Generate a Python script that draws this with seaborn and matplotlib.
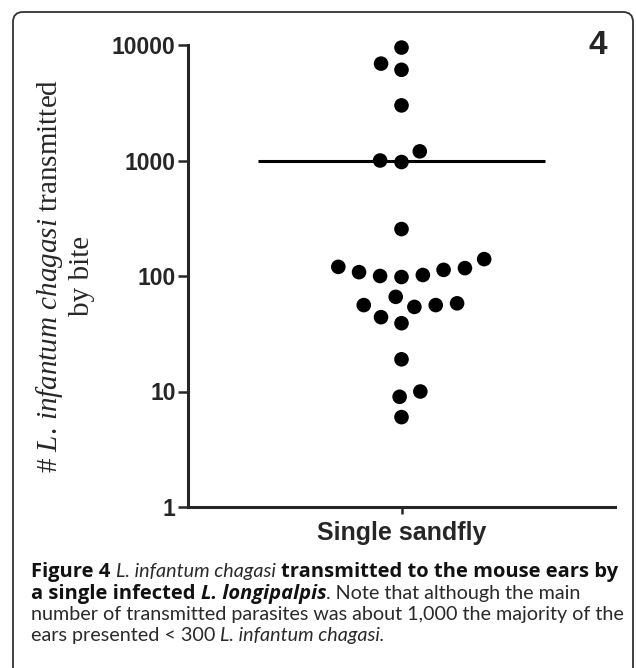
import matplotlib
matplotlib.use("Agg")
import matplotlib.pyplot as plt
import seaborn as sns
import pandas as pd
from matplotlib.patches import FancyBboxPatch
from matplotlib.transforms import IdentityTransform
from matplotlib.ticker import NullLocator

# parasites transmitted per ear by a single sandfly bite
parasites = [9500, 6900, 6100, 3000, 1000, 970, 1200, 255,
             120, 113, 102, 98, 100, 108, 117, 140,
             58, 56, 66, 44, 39, 54, 56, 19, 10, 9, 6]
group = "Single sandfly"
mean_parasites = 1000
yticks = [1, 10, 100, 1000, 10000]
ytick_labels = ["1", "10", "100", "1000", "10000"]
panel = "4"

caption = [
    [("Figure 4 ", "bold", "normal"), ("L. infantum chagasi", "normal", "italic"),
     (" transmitted to the mouse ears by", "bold", "normal")],
    [("a single infected ", "bold", "normal"), ("L. longipalpis", "bold", "italic"),
     (". Note that although the main", "normal", "normal")],
    [("number of transmitted parasites was about 1,000 the majority of the", "normal", "normal")],
    [("ears presented < 300 ", "normal", "normal"), ("L. infantum chagasi.", "normal", "italic")],
]

df = pd.DataFrame({"group": group, "parasites": parasites})

sns.set_style("ticks")
plt.rcParams["font.family"] = ["Liberation Sans", "DejaVu Sans"]
plt.rcParams["mathtext.fontset"] = "custom"
plt.rcParams["mathtext.rm"] = "Liberation Serif"
plt.rcParams["mathtext.it"] = "Liberation Serif:italic"

W, H = 636, 668
fig = plt.figure(figsize=(W / 100, H / 100), dpi=100)
ax = fig.add_axes([188 / W, 1 - 507 / H, 427 / W, 462 / H])

sns.swarmplot(data=df, x="group", y="parasites", color="black", size=10.5,
              linewidth=4.2, edgecolor="none", log_scale=True, ax=ax)
for coll in ax.collections:
    coll.set_clip_on(False)
ax.hlines(mean_parasites, -0.337, 0.337, color="black", lw=2.2, zorder=5)

ax.set_xlim(-0.5, 0.5)
ax.set_ylim(1, 10000)
ax.set_yticks(yticks, ytick_labels)
ax.yaxis.set_minor_locator(NullLocator())
sns.despine(ax=ax)
for s in ["left", "bottom"]:
    ax.spines[s].set_linewidth(2.2)
ax.tick_params(axis="y", length=7, width=1.8, pad=2, labelsize=16.5)
ax.tick_params(axis="x", length=5, width=1.8, pad=5, labelsize=18)
for lbl in ax.get_yticklabels() + ax.get_xticklabels():
    lbl.set_fontweight("bold")
ax.set_xlabel("")
ax.set_ylabel("# $L.\\,infantum\\ chagasi$ transmitted\nby bite",
              fontfamily="Liberation Serif", fontsize=21, linespacing=1.2)
ax.yaxis.set_label_coords(-0.218, 0.5)

fig.text(598 / W, 1 - 45 / H, panel, fontsize=24, fontweight="bold",
         ha="center", va="center")

# rounded frame around the figure panel
frame = FancyBboxPatch((13, -20), 620, H - 12 + 20, boxstyle="round,pad=0,rounding_size=10",
                       transform=IdentityTransform(), fill=False, ec="#333333", lw=1.3)
fig.patches.append(frame)

# caption with mixed bold / italic runs
renderer = fig.canvas.get_renderer()


def run_props(weight, style):
    if weight == "bold":
        return dict(fontsize=14.5, fontweight="bold", fontstyle=style, family="Open Sans")
    return dict(fontsize=14.2, fontweight="normal", fontstyle=style, family="Lato")


def width_of(s, props):
    t = fig.text(0, 0, s, **props)
    w = t.get_window_extent(renderer).width
    t.remove()
    return w


baselines = [577, 598.5, 620, 641.5]
for line, yb in zip(caption, baselines):
    x = 31
    for txt, weight, style in line:
        props = run_props(weight, style)
        sw = width_of("a a", props) - width_of("aa", props)
        core = txt.strip()
        x += (len(txt) - len(txt.lstrip())) * sw
        colour = "#111111" if weight == "bold" else "#2a2a2a"
        fig.text(x / W, 1 - yb / H, core, va="baseline", ha="left", color=colour, **props)
        x += width_of(core, props)
        x += (len(txt) - len(txt.rstrip())) * sw

fig.savefig("out.png", dpi=100)
